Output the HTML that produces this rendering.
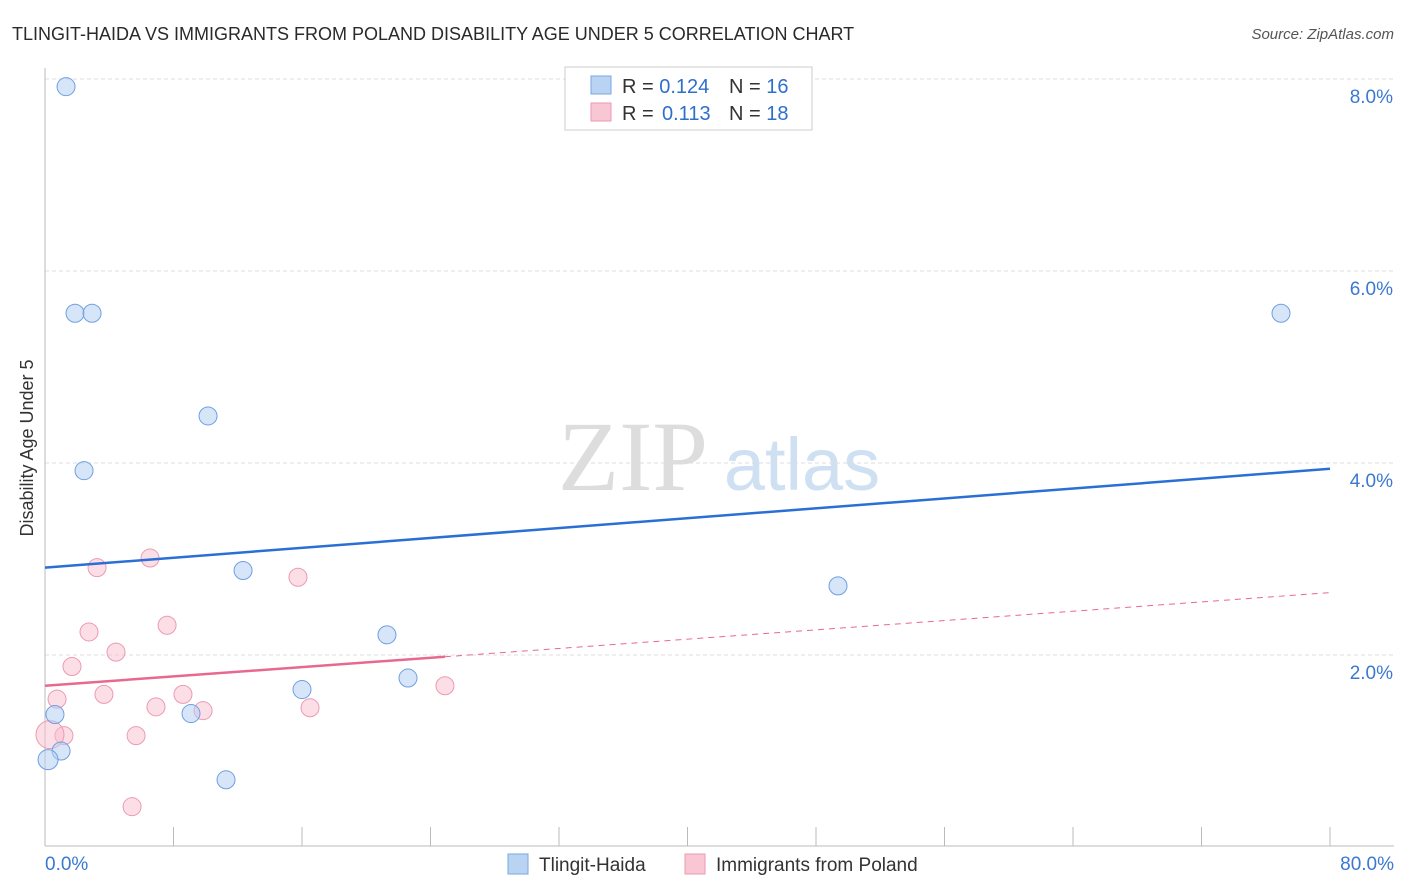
<!DOCTYPE html>
<html><head><meta charset="utf-8"><style>
body{margin:0;background:#fff;font-family:"Liberation Sans",sans-serif;}
svg{display:block}
</style></head><body>
<svg id="chart" width="1406" height="892">
<text x="12" y="40" font-size="18" fill="#2a2a2a">TLINGIT-HAIDA VS IMMIGRANTS FROM POLAND DISABILITY AGE UNDER 5 CORRELATION CHART</text>
<text x="1394" y="39" font-size="15" fill="#555" font-style="italic" text-anchor="end">Source: ZipAtlas.com</text>
<text x="40" y="455" font-size="18" fill="#333" transform="rotate(-90 33 455)" text-anchor="middle">Disability Age Under 5</text>
<g><text x="633" y="490" font-size="100" fill="#ddd" font-family="Liberation Serif,serif" text-anchor="middle">ZIP</text><text x="802" y="490" font-size="74" fill="#cfe0f3" text-anchor="middle">atlas</text></g>
<g id="grid"></g><g id="marks"></g>
<g>
<rect x="565" y="67" width="247" height="63" fill="#fff" stroke="#ccc"/>
<rect x="591" y="76" width="20" height="18" fill="#b9d3f2" stroke="#7aa7e0"/>
<rect x="591" y="103" width="20" height="18" fill="#f9c6d4" stroke="#ec9ab2"/>
<text x="622" y="93" font-size="20" fill="#333">R = <tspan fill="#2f6fcc">0.124</tspan><tspan x="729">N = </tspan><tspan fill="#2f6fcc">16</tspan></text>
<text x="622" y="120" font-size="20" fill="#333">R = <tspan x="662" fill="#2f6fcc">0.113</tspan><tspan x="729">N = </tspan><tspan fill="#2f6fcc">18</tspan></text>
</g>
<g>
<rect x="508" y="854" width="20" height="20" fill="#b9d3f2" stroke="#7aa7e0"/>
<text x="539" y="871" font-size="19" fill="#333">Tlingit-Haida</text>
<rect x="685" y="854" width="20" height="20" fill="#f9c6d4" stroke="#ec9ab2"/>
<text x="716" y="871" font-size="19" fill="#333">Immigrants from Poland</text>
</g>
</svg>
<script>
const yTicks=[2,4,6,8];
const yTickLabels=["2.0%","4.0%","6.0%","8.0%"];
const xTicks=[0,8,16,24,32,40,48,56,64,72,80];
const blueX=[1.31,1.87,2.93,10.15,2.43,12.33,76.95,49.37,21.29,22.6,16.0,0.62,9.09,1.0,0.19,11.27];
const blueY=[7.92,5.56,5.56,4.49,3.92,2.88,5.56,2.72,2.21,1.76,1.64,1.38,1.39,1.0,0.91,0.70];
const pinkX=[3.24,6.54,15.75,2.74,7.6,4.42,1.68,0.75,3.67,8.59,6.91,9.84,16.5,24.9,1.18,5.67,5.42,0.31];
const pinkY=[2.91,3.01,2.81,2.24,2.31,2.03,1.88,1.54,1.59,1.59,1.46,1.42,1.45,1.68,1.16,1.16,0.42,1.17];
const blueTrend=[2.91,3.94];
const pinkTrend=[1.68,2.65];
const pinkSolidEnd=24.9;
const X=v=>45+v/80*1285, Y=v=>847-v*96;
const NS="http://www.w3.org/2000/svg";
function mk(p,t,a){const e=document.createElementNS(NS,t);for(const k in a)e.setAttribute(k,a[k]);p.appendChild(e);return e;}
const g=document.getElementById('grid'), m=document.getElementById('marks');
yTicks.forEach((t,i)=>{
 const l=mk(g,'line',{x1:45,x2:1394,y1:Y(t),y2:Y(t),stroke:'#ddd','stroke-dasharray':'4,3'});
 
 
 const tx=mk(g,'text',{x:1393,y:Y(t)+24,'font-size':19,fill:'#3b78d0','text-anchor':'end'});
 tx.textContent=yTickLabels[i];
 
 
});
const ax=mk(g,'line',{x1:45,x2:45,y1:68,y2:846,stroke:'#bbb'});


const bx=mk(g,'line',{x1:45,x2:1394,y1:846,y2:846,stroke:'#bbb'});


xTicks.forEach(t=>{const l=mk(g,'line',{x1:X(t),x2:X(t),y1:827,y2:846,stroke:'#bbb'});
 
 });
[[0,"0.0%","start",45],[80,"80.0%","end",1394]].forEach(a=>{const tx=mk(g,'text',{x:a[3],y:870,'font-size':19,fill:'#3b78d0','text-anchor':a[2]});tx.textContent=a[1];
 
 });
pinkX.forEach((x,i)=>{const c=mk(m,'circle',{cx:X(x),cy:Y(pinkY[i]),r:i==17?14:9,fill:'rgba(249,190,208,0.5)',stroke:'#ec9ab2','stroke-width':1});
 
 });
blueX.forEach((x,i)=>{const c=mk(m,'circle',{cx:X(x),cy:Y(blueY[i]),r:i==14?10:9,fill:'rgba(180,208,242,0.55)',stroke:'#6f9fe0','stroke-width':1});
 
 });
const bl=mk(m,'line',{x1:X(0),y1:Y(blueTrend[0]),x2:X(80),y2:Y(blueTrend[1]),stroke:'#2a6fd4','stroke-width':2.5});


const pm=pinkTrend[0]+(pinkTrend[1]-pinkTrend[0])*pinkSolidEnd/80;
const pl=mk(m,'line',{x1:X(0),y1:Y(pinkTrend[0]),x2:X(pinkSolidEnd),y2:Y(pm),stroke:'#e8698f','stroke-width':2.5});


const pd=mk(m,'line',{x1:X(pinkSolidEnd),y1:Y(pm),x2:X(80),y2:Y(pinkTrend[1]),stroke:'#e8698f','stroke-width':1,'stroke-dasharray':'6,5'});


</script>
</body></html>
